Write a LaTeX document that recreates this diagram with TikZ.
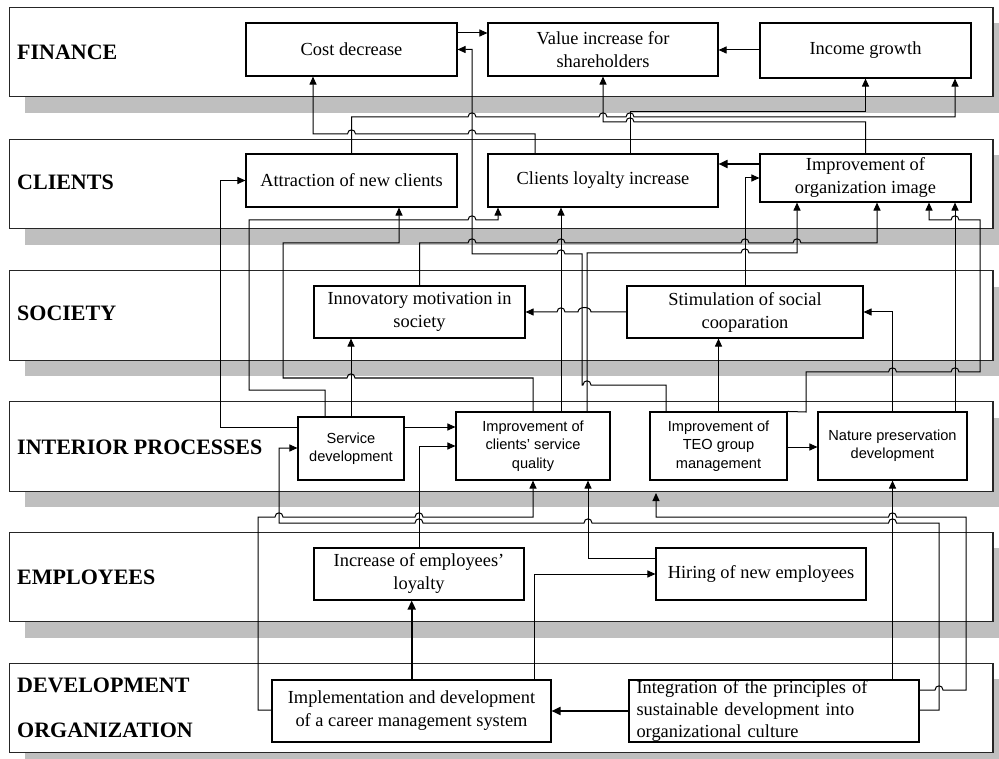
\documentclass[tikz,border=0pt]{standalone}
\usepackage{fontspec}
\setmainfont{Liberation Serif}
\setsansfont{Liberation Sans}
\usetikzlibrary{arrows.meta,calc}
\tikzset{
  band/.style={draw=black!85, line width=1.3pt, fill=white},
  bandshadow/.style={fill=black!25, draw=none},
  lbl/.style={anchor=west, font=\fontsize{22}{26}\selectfont\bfseries, inner sep=0pt},
  box/.style={draw, line width=1.1pt, fill=white, align=center, font=\fontsize{18.4}{23}\selectfont, inner sep=1pt},
  sbox/.style={draw, line width=1.1pt, fill=white, align=center, font=\sffamily\fontsize{14.6}{18.3}\selectfont, inner sep=1pt},
  conn/.style={line width=1pt, -{Triangle[length=8pt,width=7pt]}},
  bconn/.style={line width=1.8pt, -{Triangle[length=9pt,width=8pt]}},
  hopR/.style 2 args={insert path={-- ({#1-4},#2) .. controls ({#1-4},{#2-5.5}) and ({#1+4},{#2-5.5}) .. ({#1+4},#2)}},
  hopL/.style 2 args={insert path={-- ({#1+4},#2) .. controls ({#1+4},{#2-5.5}) and ({#1-4},{#2-5.5}) .. ({#1-4},#2)}},
}
\begin{document}
\begin{tikzpicture}[x=1pt,y=-1pt]
\clip (0,0) rectangle (999,759);
\fill[white] (0,0) rectangle (999,759);
% lanes
\foreach \t in {7.3,139.3,270.7,401.7,532.3,663.3} {
  \fill[bandshadow] (25,\t+16) rectangle (1010,\t+105.5);
  \draw[band] (9.5,\t) rectangle (993,\t+89.5);
}
\node[lbl] (lfin) at (17,52) {FINANCE};
\node[lbl] (lcli) at (17,182) {CLIENTS};
\node[lbl] (lsoc) at (17,313) {SOCIETY};
\node[lbl] (lint) at (17,447) {INTERIOR PROCESSES};
\node[lbl] (lemp) at (17,577) {EMPLOYEES};
\node[lbl] (ldev) at (17,685) {DEVELOPMENT};
\node[lbl] (lorg) at (17,730) {ORGANIZATION};
% boxes
\node[box, minimum width=211pt, minimum height=53pt] (cost) at (351.5,49.5) {Cost decrease};
\node[box, minimum width=230pt, minimum height=53pt] (value) at (603,49.5) {Value increase for\\shareholders};
\node[box, minimum width=211pt, minimum height=55pt] (income) at (865.5,50.5) {Income growth};
\node[box, minimum width=211pt, minimum height=53pt] (attract) at (351.5,180.5) {Attraction of new clients};
\node[box, minimum width=230pt, minimum height=53pt] (loyal) at (603,180.5) {Clients loyalty increase};
\node[box, minimum width=211pt, minimum height=48pt] (image) at (865.5,178) {Improvement of\\organization image};
\node[box, minimum width=211pt, minimum height=52pt] (innov) at (419.5,312) {Innovatory motivation in\\society};
\node[box, minimum width=236pt, minimum height=52pt] (stim) at (745,312) {Stimulation of social\\cooparation};
\node[sbox, minimum width=106pt, minimum height=63pt] (servdev) at (351,448.5) {Service\\development};
\node[sbox, minimum width=154pt, minimum height=68pt] (quality) at (533,446) {Improvement of\\clients' service\\quality};
\node[sbox, minimum width=137pt, minimum height=68pt] (teo) at (718.5,446) {Improvement of\\TEO group\\management};
\node[sbox, minimum width=149pt, minimum height=68pt] (nature) at (892.5,446) {Nature preservation\\development};
\node[box, minimum width=210pt, minimum height=52pt] (emploi) at (419,574) {Increase of employees'\\loyalty};
\node[box, minimum width=210pt, minimum height=52pt] (hiring) at (761,574) {Hiring of new employees};
\node[box, minimum width=279pt, minimum height=62pt] (impl) at (411.5,711) {Implementation and development\\of a career management system};
\node[box, font=\fontsize{18.4}{22.2}\selectfont, text width=275pt, align=left, inner xsep=7.5pt, inner ysep=0pt, minimum height=62pt] (integ) at (774,711) {Integration of the principles of\\sustainable development into\\organizational culture};
\coordinate (teoin) at (656,493);
% connectors
\draw[conn] (cost.east |- 0,33) -- (value.west |- 0,33);
\draw[conn] (income.west |- 0,50) -- (value.east |- 0,50);
\draw[conn] (teo.north -| 666,0) -- (666,385) [hopL={587}{385}] -- (582,385) -- (582,254) [hopL={561}{254}] -- (472,254) |- (cost.east);
\draw[conn] (loyal.north -| 535,0) -- (535,134) [hopL={472}{134}] [hopL={351.5}{134}] -- (313,134) -- (cost.south -| 313,0);
\draw[conn] (attract.north) -- (351.5,117) [hopR={472}{117}] [hopR={603}{117}] [hopR={630}{117}] -- (955,117) -- (income.south -| 955,0);
\draw[conn] (loyal.north -| 630,0) -- (630,112) -| (income.south);
\draw[conn] (image.north) -- (865.5,122) [hopL={630}{122}] -| (value.south);
\draw[bconn] (image.west |- 0,164) -- (loyal.east |- 0,164);
\draw[conn] (stim.north) -- (745,178) -- (image.west |- 0,178);
\draw[conn] (innov.north) -- (419.5,243) [hopR={472}{243}] [hopR={561}{243}] [hopR={745}{243}] [hopR={797}{243}] -- (877,243) -- (image.south -| 877,0);
\draw[conn] (quality.north -| 587,0) -- (587,253) [hopR={745}{253}] -- (797,253) -- (image.south -| 797,0);
\draw[conn] (quality.north -| 561,0) -- (loyal.south -| 561,0);
\draw[conn] (quality.north) -- (533,378) [hopL={351}{378}] -- (283,378) -- (283,243) -- (399,243) -- (attract.south -| 399,0);
\draw[conn] (servdev.north -| 325,0) -- (325,390) -- (249,390) -- (249,220) [hopR={472}{220}] -- (498,220) -- (loyal.south -| 498,0);
\draw[conn] (servdev.west |- 0,427) -- (220,427) |- (attract.west);
\draw[conn] (servdev.north) -- (servdev.north |- innov.south);
\draw[conn] (stim.west) -- (591,312) .. controls (591,306) and (578,306) .. (578,312) [hopL={561}{312}] -- (innov.east);
\draw[conn] (teo.north) -- (teo.north |- stim.south);
\draw[conn] (nature.north) |- (stim.east);
\draw[conn] (nature.north -| 955,0) -- (image.south -| 955,0);
\draw[conn] (teo.north east) -- (806,412) -- (806,372) [hopR={892.5}{372}] [hopR={955}{372}] -- (980,372) -- (980,220) [hopL={955}{220}] -- (929,220) -- (image.south -| 929,0);
\draw[conn] (teo.east |- 0,447) -- (nature.west |- 0,447);
\draw[conn] (servdev.east |- 0,427) -- (quality.west |- 0,427);
\draw[conn] (emploi.north) |- (quality.west |- 0,446);
\draw[conn] (impl.west |- 0,710) -- (258,710) -- (258,517) [hopR={279}{517}] [hopR={419}{517}] -| (quality.south);
\draw[conn] (integ.east |- 0,710) -- (939,710) -- (939,523) [hopL={892.5}{523}] [hopL={588}{523}] [hopL={419}{523}] -- (279,523) |- (servdev.west |- 0,448);
\draw[conn] (integ.east |- 0,690) [hopR={939}{690}] -- (966,690) -- (966,517) [hopL={892.5}{517}] -- (656,517) -- (teoin);
\draw[conn] (integ.north -| nature.south) -- (nature.south);
\draw[bconn] (integ.west) -- (impl.east);
\draw[bconn] (impl.north -| 411.7,0) -- (emploi.south -| 411.7,0);
\draw[conn] (impl.north -| 534,0) |- (hiring.west);
\draw[conn] (hiring.west |- 0,558) -- (588,558) -- (quality.south -| 588,0);
\end{tikzpicture}
\end{document}
